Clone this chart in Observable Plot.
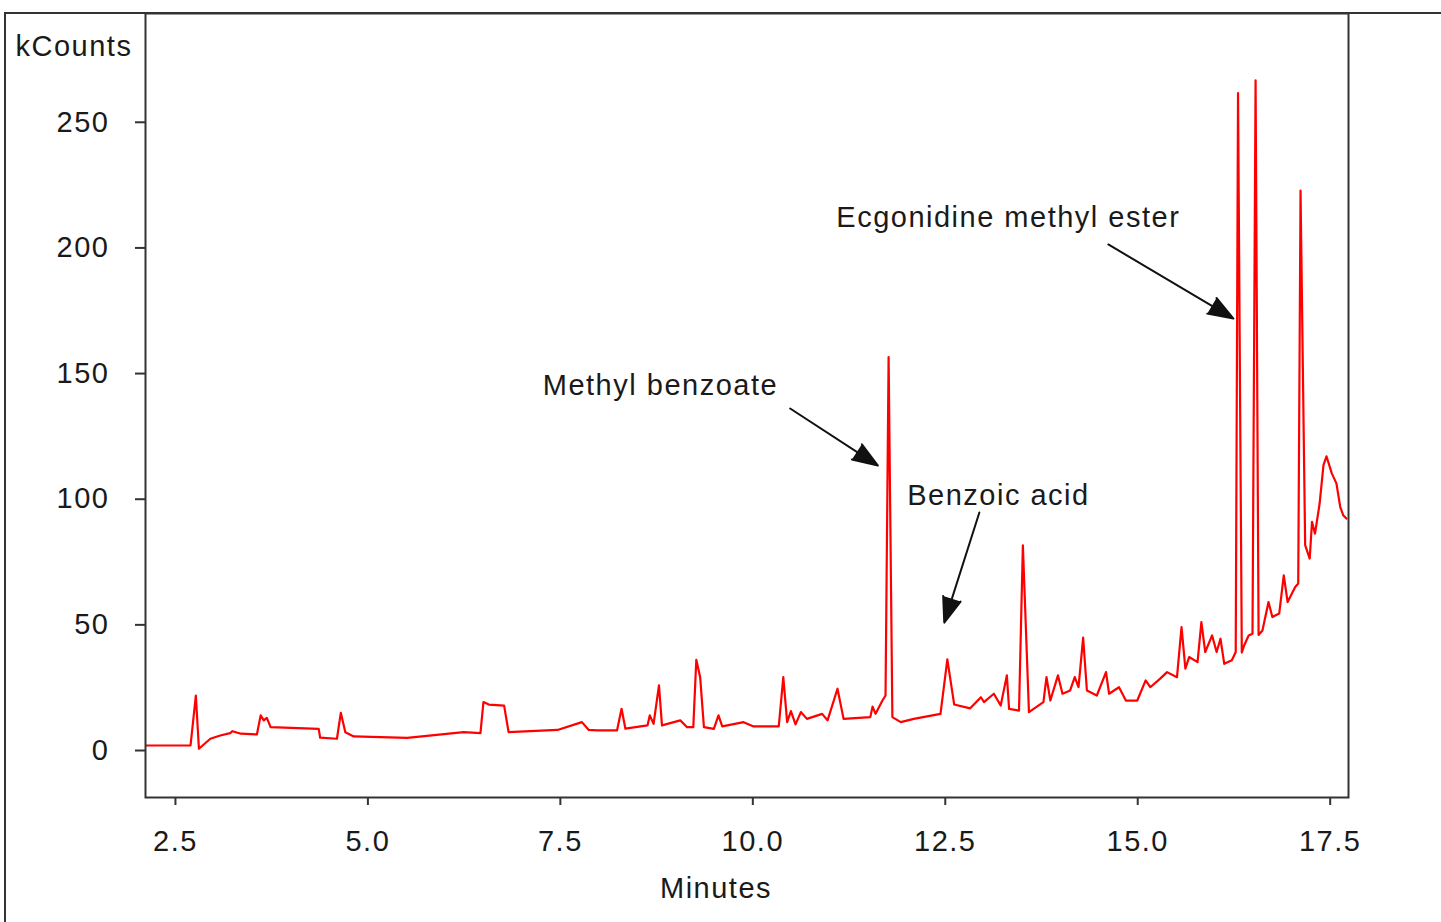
<!DOCTYPE html>
<html>
<head>
<meta charset="utf-8">
<script src="https://cdn.jsdelivr.net/npm/d3@7"></script>
<script src="https://cdn.jsdelivr.net/npm/@observablehq/plot@0.6"></script>
<style>
  html, body { margin: 0; padding: 0; background: #fff; }
  #wrap { position: relative; width: 1441px; height: 922px; overflow: hidden; }
  #border { position: absolute; left: 4px; top: 12px; width: 1500px; height: 1000px;
            border-left: 2px solid #333; border-top: 2px solid #333; box-sizing: border-box; }
  #chart { position: absolute; left: 0; top: 0; }
</style>
</head>
<body>
<div id="wrap"><div id="border"></div><div id="chart"></div></div>
<script>
// Retention time (minutes) and detector response (kCounts)
const minutes = [
  2.111, 2.696, 2.765, 2.805, 2.953, 3.082, 3.211, 3.241, 3.350, 3.558, 3.607, 3.647, 3.687, 3.736, 4.361, 4.380,
  4.598, 4.648, 4.707, 4.816, 5.510, 6.244, 6.462, 6.501, 6.571, 6.769, 6.828, 7.463, 7.780, 7.869, 7.978, 8.236,
  8.295, 8.345, 8.632, 8.662, 8.711, 8.781, 8.820, 9.058, 9.147, 9.227, 9.266, 9.316, 9.365, 9.494, 9.554, 9.603,
  9.881, 10.010, 10.337, 10.396, 10.446, 10.495, 10.555, 10.624, 10.703, 10.901, 10.971, 11.100, 11.179, 11.526,
  11.556, 11.595, 11.684, 11.724, 11.764, 11.813, 11.922, 12.091, 12.438, 12.527, 12.616, 12.824, 12.963, 13.002,
  13.131, 13.220, 13.300, 13.329, 13.458, 13.508, 13.587, 13.775, 13.815, 13.865, 13.964, 14.023, 14.122, 14.182,
  14.231, 14.291, 14.340, 14.469, 14.588, 14.628, 14.757, 14.846, 14.994, 15.103, 15.163, 15.292, 15.381, 15.510,
  15.569, 15.619, 15.668, 15.777, 15.827, 15.877, 15.966, 16.025, 16.075, 16.124, 16.223, 16.273, 16.303, 16.352,
  16.382, 16.441, 16.491, 16.531, 16.570, 16.620, 16.699, 16.749, 16.838, 16.897, 16.947, 17.046, 17.085, 17.115,
  17.175, 17.234, 17.264, 17.303, 17.363, 17.413, 17.452, 17.522, 17.581, 17.631, 17.670, 17.710
];
const kcounts = [
  0.0, 0.0, 19.9, -1.3, 2.7, 4.0, 4.9, 5.7, 4.7, 4.4, 12.0, 10.0, 11.0, 7.3, 6.6, 3.1,
  2.7, 13.0, 5.3, 3.6, 3.0, 5.3, 4.9, 17.3, 16.3, 15.9, 5.3, 6.2, 9.3, 6.2, 6.0, 6.0,
  14.6, 6.7, 8.0, 12.0, 8.6, 23.9, 8.0, 10.0, 7.3, 7.3, 34.1, 27.2, 7.3, 6.6, 12.0, 7.6,
  9.3, 7.6, 7.6, 27.2, 9.3, 13.7, 8.4, 13.3, 10.6, 12.6, 10.0, 22.6, 10.6, 11.3,
  15.5, 12.6, 17.9, 19.9, 154.6, 11.3, 9.3, 10.6, 12.6, 34.3, 16.3, 14.8, 19.2, 17.3,
  20.6, 15.9, 27.9, 14.6, 13.9, 79.7, 13.3, 17.3, 27.2, 17.9, 27.9, 20.6, 21.9, 27.2,
  23.2, 42.9, 21.9, 19.9, 29.2, 20.6, 23.2, 17.9, 17.9, 25.9, 23.2, 26.6, 29.2, 27.2,
  47.1, 30.6, 35.2, 33.2, 49.1, 37.2, 43.8, 37.2, 42.5, 32.5, 33.9, 37.2, 259.6, 37.0,
  39.8, 43.8, 44.5, 264.7, 44.0, 45.8, 57.1, 51.1, 52.5, 67.7, 57.1, 63.1, 64.5, 220.8,
  79.7, 74.4, 89.0, 84.3, 96.3, 111.6, 115.1, 108.2, 104.3, 94.9, 91.6, 90.3
];

// Axis ticks
const xTicks = [2.5, 5.0, 7.5, 10.0, 12.5, 15.0, 17.5];
const yTicks = [0, 50, 100, 150, 200, 250];

// Peak annotations (text anchor in data units, arrow start/end in data units)
const labels    = ["Methyl benzoate", "Benzoic acid", "Ecgonidine methyl ester"];
const labelMin  = [8.800, 13.191, 13.319];
const labelK    = [143.3, 99.5, 210.1];
const arrowMin1 = [10.485, 12.943, 14.618];
const arrowK1   = [134.1, 92.7, 199.4];
const arrowMin2 = [11.625, 12.487, 16.243];
const arrowK2   = [111.4, 48.9, 169.9];

const idx = labels.map((_, i) => i);

const chart = Plot.plot({
  width: 1441,
  height: 922,
  marginLeft: 145,
  marginRight: 93,
  marginTop: 13,
  marginBottom: 125,
  x: { domain: [2.111, 17.738] },
  y: { domain: [-20.69, 291.3] },
  style: {
    fontFamily: "'Liberation Sans', Arial, sans-serif",
    fontSize: "29px",
    letterSpacing: "1.5px",
    color: "#1a1a1a",
    background: "transparent",
    overflow: "visible"
  },
  marks: [
    Plot.line(minutes, { x: minutes, y: kcounts, stroke: "#ff0000", strokeWidth: 2.2, strokeLinejoin: "round", clip: true }),
    Plot.frame({ stroke: "#333", strokeWidth: 2 }),
    Plot.axisX({ ticks: xTicks, tickFormat: d3.format(".1f"), tickSize: 8, tickPadding: 25, stroke: "#333", strokeWidth: 2, label: null }),
    Plot.axisY({ ticks: yTicks, tickFormat: d3.format("d"), tickSize: 10, tickPadding: 26, dy: 5, stroke: "#333", strokeWidth: 2, label: null }),
    Plot.text(["kCounts"], { frameAnchor: "top-left", text: d => d, dx: -130, dy: 33, textAnchor: "start", lineAnchor: "middle" }),
    Plot.text(["Minutes"], { frameAnchor: "bottom", text: d => d, dx: -31, dy: 91, textAnchor: "middle", lineAnchor: "middle" }),
    Plot.text(idx, { x: i => labelMin[i], y: i => labelK[i], text: i => labels[i], textAnchor: "middle", lineAnchor: "middle" }),
    Plot.arrow(idx, {
      x1: i => arrowMin1[i], y1: i => arrowK1[i],
      x2: i => arrowMin2[i], y2: i => arrowK2[i],
      stroke: "#111", fill: "#111", strokeWidth: 2, headLength: 20, headAngle: 40
    })
  ]
});
document.getElementById("chart").appendChild(chart);
</script>
</body>
</html>
